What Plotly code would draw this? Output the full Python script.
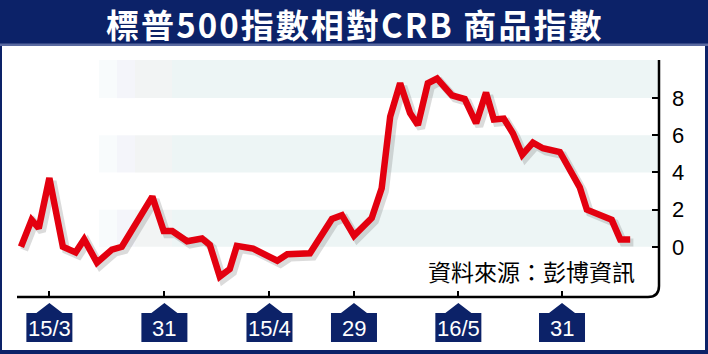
import plotly.graph_objects as go

# ---- data ----
X_POS = [0, 1.5, 2.5, 4.0, 5.9, 7.7, 8.9, 10.7, 12.8, 14.2, 18.5, 20.1, 21.3, 23.4, 25.5,
         26.6, 28.0, 29.4, 30.4, 32.7, 36.1, 37.5, 40.7, 43.8, 45.2, 46.9, 49.4, 50.8,
         52.0, 53.4, 54.8, 55.9, 57.3, 58.6, 60.7, 62.5, 64.1, 65.5, 66.6, 68.0, 69.3,
         70.6, 72.1, 73.5, 75.9, 78.7, 79.7, 83.2, 84.4, 85.8]
VALUES = [0.0, 1.45, 1.0, 3.7, 0.0, -0.3, 0.4, -0.85, -0.15, 0.0, 2.7, 0.85, 0.85, 0.3, 0.45,
          0.1, -1.6, -1.2, 0.05, -0.1, -0.75, -0.4, -0.35, 1.5, 1.7, 0.6, 1.55, 3.15,
          7.0, 8.8, 7.2, 6.55, 8.8, 9.05, 8.15, 7.95, 6.65, 8.3, 6.85, 6.9, 6.1,
          4.95, 5.6, 5.3, 5.1, 3.2, 2.0, 1.45, 0.4, 0.4]
TICK_POS = [4.0, 20.2, 35.0, 46.9, 61.6, 76.2]
TICK_LABELS = ["15/3", "31", "15/4", "29", "16/5", "31"]
Y_TICKS = [0, 2, 4, 6, 8]
TITLE = "標普500指數相對CRB 商品指數"
SOURCE = "資料來源：彭博資訊"

NAVY = "#0c2268"
RED = "#e3000f"

W, H = 708, 354
ML, MR, MT, MB = 17, 49, 60, 57
PW, PH = W - ML - MR, H - MT - MB


def px_x(p):
    return (p - ML) / PW


def px_y(p):
    return (H - MB - p) / PH


fig = go.Figure()

# soft shadow of the line
fig.add_trace(go.Scatter(x=[v + 0.45 for v in X_POS], y=[v - 0.17 for v in VALUES],
                         mode="lines", line=dict(color="rgba(90,90,90,0.22)", width=8),
                         hoverinfo="skip", showlegend=False))
fig.add_trace(go.Scatter(x=X_POS, y=VALUES, mode="lines",
                         line=dict(color=RED, width=6.5), showlegend=False))

shapes = []
# background bands with faded left edge
fades = [(99, 117, "#f8fbfc"), (117, 135, "#f4f5fa"), (135, 172, "#f2f4f4"), (172, 659, "#edf5f5")]
for y0, y1 in [(0, 2), (4, 6), (8, 10.05)]:
    for a, b, c in fades:
        shapes.append(dict(type="rect", xref="paper", yref="y", x0=px_x(a), x1=px_x(b),
                           y0=y0, y1=y1, fillcolor=c, line=dict(width=0), layer="below"))

# axis frame with rounded corner
rx, ry = 11 / PW, 11 / PH
shapes.append(dict(type="path", xref="paper", yref="paper",
                   path=f"M 0,0 L {1-rx},0 Q 1,0 1,{ry} L 1,1",
                   line=dict(color="black", width=2.5)))

# title bar and panel border
shapes.append(dict(type="rect", xref="paper", yref="paper", x0=px_x(0), x1=px_x(W),
                   y0=px_y(46), y1=px_y(0), fillcolor=NAVY, line=dict(width=0)))
shapes.append(dict(type="rect", xref="paper", yref="paper", x0=px_x(0), x1=px_x(W),
                   y0=px_y(46), y1=px_y(43.5), fillcolor="#5a6aa0", line=dict(width=0)))
for a, b, c, d in [(0, 2, 46, H), (705, W, 46, H), (0, W, 350, H)]:
    shapes.append(dict(type="rect", xref="paper", yref="paper", x0=px_x(a), x1=px_x(b),
                       y0=px_y(d), y1=px_y(c), fillcolor=NAVY, line=dict(width=0)))

# tick label tags
annotations = []
for t, lab in zip(TICK_POS, TICK_LABELS):
    shapes.append(dict(type="path", xref="x", yref="paper", xsizemode="pixel", ysizemode="pixel",
                       xanchor=t, yanchor=0,
                       path="M -23,-45 L 23,-45 L 23,-16 L 13,-16 L 0,-6 L -13,-16 L -23,-16 Z",
                       fillcolor=NAVY, line=dict(width=0)))
    annotations.append(dict(x=t, xref="x", y=px_y(328), yref="paper", text=lab, showarrow=False,
                            xanchor="center", yanchor="middle",
                            font=dict(family="Liberation Sans, Arial", size=22, color="white")))

title_spaced = "\u200a".join(list(TITLE))
annotations.append(dict(x=px_x(354), y=px_y(24.5), xref="paper", yref="paper",
                        text=f"<b>{title_spaced}</b>",
                        showarrow=False, xanchor="center", yanchor="middle",
                        font=dict(family="Noto Sans CJK TC", size=33, color="white")))
annotations.append(dict(x=px_x(637), y=px_y(271), xref="paper", yref="paper", text=SOURCE,
                        showarrow=False, xanchor="right", yanchor="middle",
                        font=dict(family="Noto Sans CJK TC", size=23, color="black")))

fig.update_layout(
    width=W, height=H, autosize=False,
    margin=dict(l=ML, r=MR, t=MT, b=MB, pad=0),
    paper_bgcolor="white", plot_bgcolor="white",
    shapes=shapes, annotations=annotations, showlegend=False,
    xaxis=dict(range=[-0.56, 89.86], showgrid=False, zeroline=False, showline=False,
               tickvals=TICK_POS, ticks="inside", ticklen=6, tickwidth=2, tickcolor="black",
               showticklabels=False, fixedrange=True),
    yaxis=dict(range=[-2.7, 10.05], side="right", showgrid=False, zeroline=False, showline=False,
               tickvals=Y_TICKS, ticktext=[str(v) for v in Y_TICKS],
               ticks="inside", ticklen=7, tickwidth=2, tickcolor="black",
               ticklabelstandoff=12,
               tickfont=dict(family="Liberation Sans, Arial", size=22, color="black"),
               fixedrange=True),
)

fig.write_html("out.html")
